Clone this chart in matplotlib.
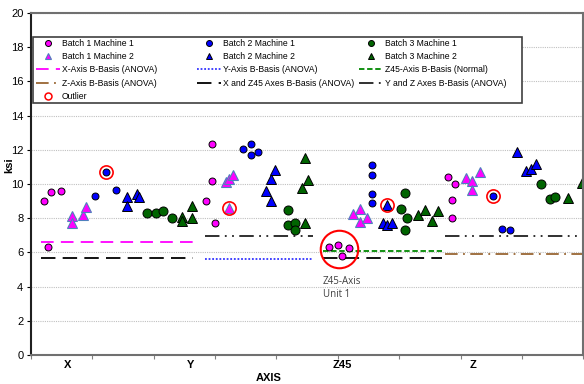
import numpy as np
import matplotlib
matplotlib.use("Agg")
import matplotlib.pyplot as plt
from matplotlib.patches import Rectangle
from matplotlib.legend import Legend

plt.rcParams['font.family'] = ['Liberation Sans', 'DejaVu Sans']

# points: x position on the axis, ksi value
b1m1_x = [0.21, 0.33, 0.49, 0.27, 2.85, 2.95, 2.95, 3.00, 4.85, 5.01, 5.06, 5.18, 6.80, 6.90, 6.86, 6.86]
b1m1_y = [9.00, 9.53, 9.59, 6.32, 9.00, 12.34, 10.15, 7.70, 6.33, 6.45, 5.79, 6.26, 10.41, 10.02, 9.04, 8.03]
b1m2_x = [0.67, 0.67, 0.84, 0.90, 3.18, 3.23, 3.29, 3.23, 5.25, 5.36, 5.36, 5.47, 7.08, 7.19, 7.31, 7.19]
b1m2_y = [8.11, 7.72, 8.17, 8.67, 10.10, 10.30, 10.50, 8.57, 8.25, 8.54, 7.78, 8.01, 10.33, 10.20, 10.68, 9.65]
b2m1_x = [1.05, 1.23, 1.39, 3.45, 3.58, 3.58, 3.70, 5.56, 5.56, 5.56, 5.56, 7.52, 7.68, 7.80]
b2m1_y = [9.30, 10.70, 9.65, 12.07, 12.37, 11.70, 11.87, 11.09, 10.50, 9.42, 8.91, 9.32, 7.37, 7.31]
b2m2_x = [1.56, 1.56, 1.73, 1.76, 3.83, 3.91, 3.91, 3.98, 5.73, 5.80, 5.80, 5.88, 7.92, 8.06, 8.15, 8.22]
b2m2_y = [9.26, 8.71, 9.40, 9.26, 9.59, 10.27, 9.00, 10.82, 7.72, 8.75, 7.62, 7.72, 11.85, 10.76, 10.88, 11.15]
b3m1_x = [1.89, 2.03, 2.15, 2.30, 4.19, 4.19, 4.30, 4.30, 6.03, 6.09, 6.09, 6.13, 8.31, 8.45, 8.53]
b3m1_y = [8.32, 8.28, 8.43, 8.04, 8.51, 7.62, 7.74, 7.31, 8.54, 9.45, 7.31, 8.03, 10.00, 9.15, 9.26]
b3m2_x = [2.46, 2.46, 2.62, 2.62, 4.41, 4.47, 4.47, 4.51, 6.31, 6.42, 6.53, 6.63, 8.75, 8.98]
b3m2_y = [8.10, 7.81, 8.73, 8.00, 9.79, 11.50, 7.70, 10.23, 8.17, 8.51, 7.85, 8.42, 9.21, 10.08]

outlier_x = [1.23, 3.23, 5.80, 7.52]
outlier_y = [10.70, 8.57, 8.75, 9.32]

# B-basis values and the x span of each line
x_basis, x_span = 6.63, [0.16, 2.64]
y_basis, y_span = 5.63, [2.84, 4.60]
z45_basis, z45_span = 6.08, [4.76, 6.70]
z_basis, z_span = 5.92, [6.75, 9.00]
xz45_basis, xz45_spans = 5.68, [[0.16, 2.64], [4.76, 6.70]]
yz_basis, yz_spans = 6.97, [[2.84, 4.60], [6.75, 9.00]]

axis_names = ["X", "Y", "Z45", "Z"]
axis_name_x = [0.59, 2.60, 5.07, 7.21]

fig = plt.figure(figsize=(5.84, 3.84), dpi=100)
ax = fig.add_axes([0.053, 0.0755, 0.946, 0.8905])

ax.set_xlim(0, 9)
ax.set_ylim(0, 20)
ax.set_yticks(np.arange(0, 21, 2))
ax.set_xticks(np.arange(0, 10, 1))
ax.set_xticklabels([])
ax.tick_params(axis='y', labelsize=8, length=3, direction='out', pad=2.5)
ax.tick_params(axis='x', length=3, direction='out', color='#808080')
ax.yaxis.grid(True, linestyle=(0, (1, 1)), color='#c0c0c0', linewidth=0.8)
ax.set_axisbelow(True)
for s in ['top', 'right', 'bottom']:
    ax.spines[s].set_color('#707070')
    ax.spines[s].set_linewidth(1.5)
ax.spines['left'].set_color('#202020')
ax.spines['left'].set_linewidth(1.5)

# basis lines
h_x, = ax.plot(x_span, [x_basis] * 2, color='#ff00ff', lw=1.3, dashes=(7, 4),
               label="X-Axis B-Basis (ANOVA)")
h_y, = ax.plot(y_span, [y_basis] * 2, color='#3333ff', lw=1.3, dashes=(1, 1),
               label="Y-Axis B-Basis (ANOVA)")
h_z45, = ax.plot(z45_span, [z45_basis] * 2, color='#008800', lw=1.3, dashes=(3, 1.5),
                 label="Z45-Axis B-Basis (Normal)")
h_z, = ax.plot(z_span, [z_basis] * 2, color='#996633', lw=1.3, dashes=(7, 3, 1, 3),
               label="Z-Axis B-Basis (ANOVA)")
h_xz45 = None
for sp in xz45_spans:
    h, = ax.plot(sp, [xz45_basis] * 2, color='black', lw=1.3, dashes=(8, 4),
                 label="X and Z45 Axes B-Basis (ANOVA)")
    h_xz45 = h_xz45 or h
h_yz = None
for sp in yz_spans:
    h, = ax.plot(sp, [yz_basis] * 2, color='#202020', lw=1.3, dashes=(8, 3, 1, 3, 1, 3),
                 label="Y and Z Axes B-Basis (ANOVA)")
    h_yz = h_yz or h

# points
h11, = ax.plot(b1m1_x, b1m1_y, 'o', ms=5, mfc='#ff00ff', mec='black', mew=0.7,
               ls='none', label="Batch 1 Machine 1")
h12, = ax.plot(b1m2_x, b1m2_y, '^', ms=6.5, mfc='#ff00ff', mec='#4f81bd', mew=0.8,
               ls='none', label="Batch 1 Machine 2")
h21, = ax.plot(b2m1_x, b2m1_y, 'o', ms=5, mfc='#0000ff', mec='black', mew=0.7,
               ls='none', label="Batch 2 Machine 1")
h22, = ax.plot(b2m2_x, b2m2_y, '^', ms=6.5, mfc='#0000ff', mec='black', mew=0.7,
               ls='none', label="Batch 2 Machine 2")
h31, = ax.plot(b3m1_x, b3m1_y, 'o', ms=6.5, mfc='#006400', mec='black', mew=0.7,
               ls='none', label="Batch 3 Machine 1")
h32, = ax.plot(b3m2_x, b3m2_y, '^', ms=6.5, mfc='#006400', mec='black', mew=0.7,
               ls='none', label="Batch 3 Machine 2")
hout, = ax.plot(outlier_x, outlier_y, 'o', ms=9.5, mfc='none', mec='red', mew=1.2,
                ls='none', label="Outlier")

# Z45 unit 1 callout
z45u1_x = np.mean(b1m1_x[8:12])
z45u1_y = np.mean(b1m1_y[8:12])
ax.plot([z45u1_x], [z45u1_y], 'o', ms=27, mfc='none', mec='red', mew=1.5)
ax.text(4.75, 4.65, "Z45-Axis\nUnit 1", fontsize=7, color='#404040',
        family=['Open Sans', 'DejaVu Sans'], va='top', ha='left', linespacing=1.3)

for name, xp in zip(axis_names, axis_name_x):
    ax.text(xp, -0.6, name, ha='center', va='center', fontsize=8, fontweight='bold')
fig.text(269 / 584, 0.016, "AXIS", ha='center', va='center',
         fontsize=8, fontweight='bold')
fig.text(9.5 / 584, 0.57, "ksi", ha='center', va='center', rotation=90,
         fontsize=8, fontweight='bold')

# legend: three fixed-width columns in one frame
ax.add_patch(Rectangle((0.0036, 0.737), 0.885, 0.193, transform=ax.transAxes,
                       fill=True, facecolor='white', edgecolor='#404040',
                       lw=1.2, zorder=4))
columns = [([h11, h12, h_x, h_z, hout], 0.009),
           ([h21, h22, h_y, h_xz45], 0.301),
           ([h31, h32, h_z45, h_yz], 0.594)]
for hs, x0 in columns:
    leg = Legend(ax, hs, [h.get_label() for h in hs], loc='upper left',
                 bbox_to_anchor=(x0, 0.925), fontsize=6.2, frameon=False,
                 handlelength=2.8, borderpad=0, borderaxespad=0,
                 labelspacing=0.5, handletextpad=0.2)
    for lh in leg.legend_handles:
        if lh.get_marker() == 'o':
            lh.set_markersize(4.3 if lh.get_mec() != 'red' else 5)
            if lh.get_mec() == 'red':
                lh.set_markeredgewidth(1.1)
        elif lh.get_marker() == '^':
            lh.set_markersize(5)
    leg.set_zorder(5)
    ax.add_artist(leg)

fig.savefig("out.png", dpi=100)
